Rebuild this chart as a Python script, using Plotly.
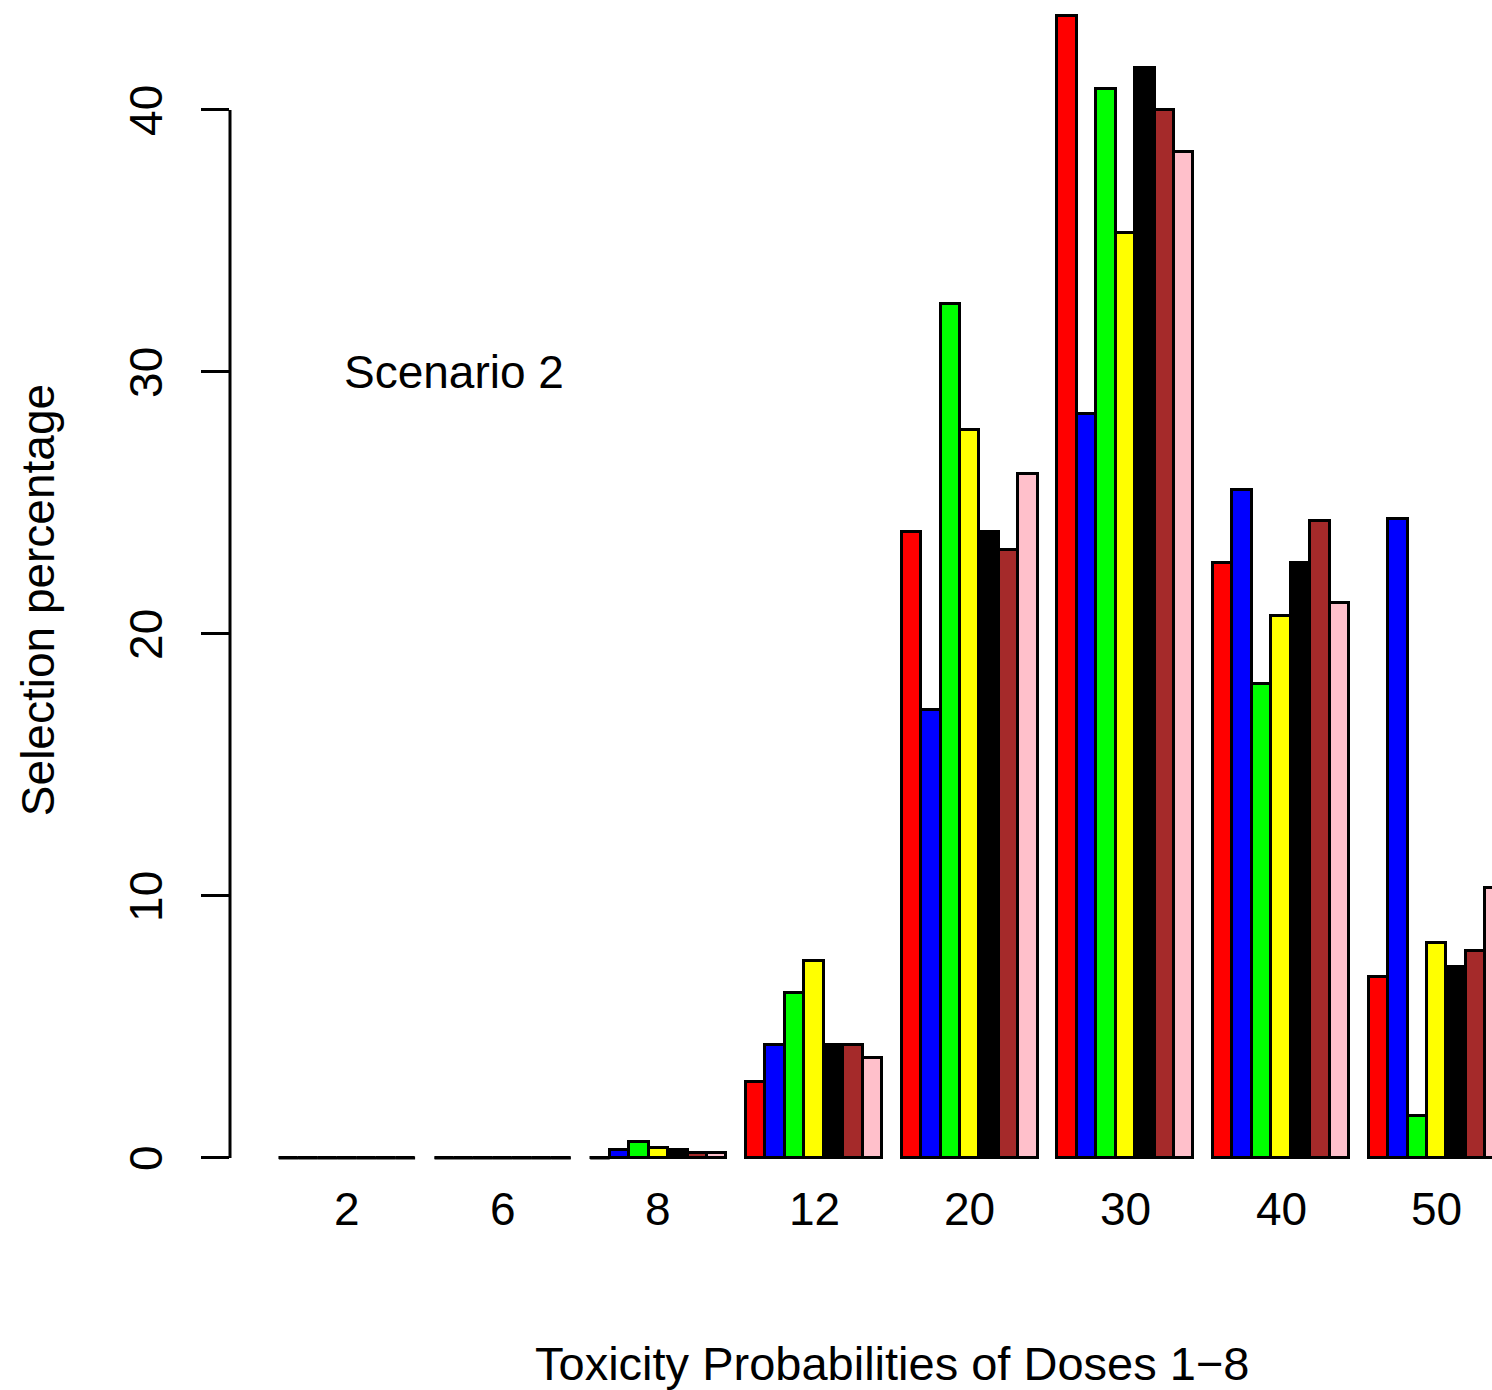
import plotly.graph_objects as go

# Data
categories = ["2", "6", "8", "12", "20", "30", "40", "50"]
series_colors = ["#FF0000", "#0000FF", "#00FF00", "#FFFF00", "#000000", "#A52A2A", "#FFC0CB"]
s1 = [0.0, 0.0, 0.0, 2.9, 23.9, 43.6, 22.7, 6.9]
s2 = [0.0, 0.0, 0.3, 4.3, 17.1, 28.4, 25.5, 24.4]
s3 = [0.0, 0.0, 0.6, 6.3, 32.6, 40.8, 18.1, 1.6]
s4 = [0.0, 0.0, 0.4, 7.5, 27.8, 35.3, 20.7, 8.2]
s5 = [0.0, 0.0, 0.3, 4.3, 23.9, 41.6, 22.7, 7.3]
s6 = [0.0, 0.0, 0.2, 4.3, 23.2, 40.0, 24.3, 7.9]
s7 = [0.0, 0.0, 0.2, 3.8, 26.1, 38.4, 21.2, 10.3]
series = [s1, s2, s3, s4, s5, s6, s7]
y_ticks = [0, 10, 20, 30, 40]

FONT = "Liberation Sans, Arial, sans-serif"
FS = 46
nser = len(series)
group_step = nser + 1  # one bar-width gap before each group (R barplot beside=TRUE)

fig = go.Figure()
zx, zy = [], []
for j, (vals, col) in enumerate(zip(series, series_colors)):
    xs = [1.5 + j + group_step * g for g in range(len(categories))]
    fig.add_trace(go.Bar(
        x=xs, y=vals, width=1.0, marker=dict(color=col, line=dict(color="black", width=3)),
        showlegend=False, hoverinfo="skip"))
    for xv, v in zip(xs, vals):
        if v == 0:
            zx += [xv - 0.5, xv + 0.5, None]
            zy += [0, 0, None]

# zero-height bars drawn as baseline strokes
fig.add_trace(go.Scatter(x=zx, y=zy, mode="lines", line=dict(color="black", width=3),
                         showlegend=False, hoverinfo="skip", cliponaxis=False))

centers = [1 + nser / 2 + group_step * g for g in range(len(categories))]

annotations = []
for c, lab in zip(centers, categories):
    annotations.append(dict(x=c, y=-0.0042, xref="x", yref="paper", text=lab, showarrow=False,
                            xanchor="center", yanchor="middle", font=dict(size=FS, color="black", family=FONT)))
for t in y_ticks:
    annotations.append(dict(x=-0.0666, y=t, xref="paper", yref="y", text=str(t), textangle=-90,
                            showarrow=False, xanchor="center", yanchor="middle",
                            font=dict(size=FS, color="black", family=FONT)))
annotations.append(dict(x=(1 + group_step * len(categories)) / 2, y=-0.1321, xref="x", yref="paper",
                        text="Toxicity Probabilities of Doses 1\u22128", showarrow=False,
                        xanchor="center", yanchor="middle", font=dict(size=47, color="black", family=FONT)))
annotations.append(dict(x=10, y=30, xref="x", yref="y", text="Scenario 2", showarrow=False,
                        xanchor="center", yanchor="middle", font=dict(size=FS, color="black", family=FONT)))
annotations.append(dict(x=-0.152, y=0.5017, xref="paper", yref="paper", text="Selection percentage",
                        textangle=-90, showarrow=False, xanchor="center", yanchor="middle",
                        font=dict(size=FS, color="black", family=FONT)))

fig.update_layout(
    width=1492, height=1390,
    margin=dict(l=230, r=0, t=0, b=186, autoexpand=False),
    paper_bgcolor="white", plot_bgcolor="white",
    barmode="overlay", bargap=0,
    annotations=annotations,
    shapes=[dict(type="line", xref="paper", yref="y", x0=0, x1=0, y0=y_ticks[0], y1=y_ticks[-1],
                 line=dict(color="black", width=3))],
    xaxis=dict(range=[-1.512, 63.34], showgrid=False, zeroline=False, showline=False,
               showticklabels=False, ticks="", automargin=False),
    yaxis=dict(range=[-1.756, 44.198], showgrid=False, zeroline=False, showline=False,
               tickmode="array", tickvals=y_ticks, showticklabels=False,
               ticks="outside", ticklen=28, tickwidth=3, tickcolor="black",
               automargin=False),
)

fig.write_html("out.html", config={"displayModeBar": False},
               post_script="document.body.style.margin='0';")
